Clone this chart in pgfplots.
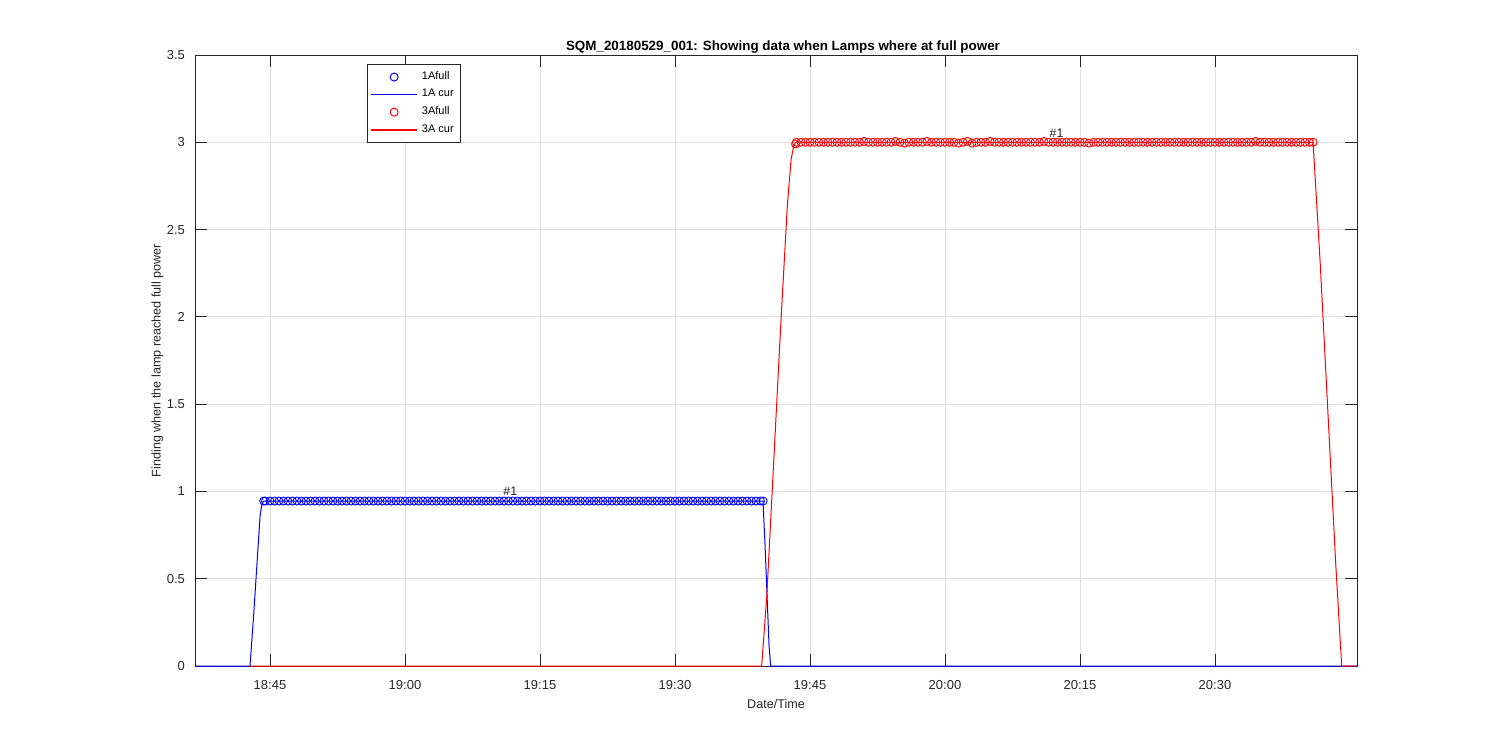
\documentclass[border=0pt]{standalone}
\usepackage{fontspec}
\setmainfont{Liberation Sans}
\usepackage{pgfplots}
\pgfplotsset{compat=1.18}
\definecolor{axgray}{RGB}{38,38,38}
\definecolor{gridgray}{RGB}{223,223,223}
\begin{document}
\begin{tikzpicture}
\path[use as bounding box] (0,0) rectangle (750pt,375pt);
\begin{axis}[
    at={(97.5pt,42pt)}, anchor=south west,
    scale only axis, width=581pt, height=305.5pt,
    xmin=36.67, xmax=165.78, ymin=0, ymax=3.5,
    xtick={45,60,75,90,105,120,135,150},
    xticklabels={18:45,19:00,19:15,19:30,19:45,20:00,20:15,20:30},
    ytick={0,0.5,1,1.5,2,2.5,3,3.5},
    yticklabels={0,0.5,1,1.5,2,2.5,3,3.5},
    grid=major, major grid style={gridgray, line width=0.4pt},
    tick align=inside, major tick length=5.8pt,
    axis line style={axgray, line width=0.4pt},
    every tick/.style={axgray, line width=0.4pt},
    tick label style={font=\fontsize{6.5}{7.5}\selectfont, text=axgray},
    x tick label style={yshift=-3.5pt},
    y tick label style={xshift=-1.5pt},
    /pgf/number format/assume math mode=true,
    label style={font=\fontsize{6.3}{7.5}\selectfont, text=axgray},
    xlabel style={yshift=2pt},
    ylabel style={yshift=-5pt},
    title style={font=\bfseries\fontsize{6.7}{8}\selectfont, text=black, yshift=-8.5pt, xshift=3.5pt},
    title={SQM\_20180529\_001: Showing data when Lamps where at full power},
    xlabel={Date/Time},
    ylabel={Finding when the lamp reached full power},
    legend style={at={(rel axis cs:0.148,0.985)}, anchor=north west, draw=axgray,
        font=\fontsize{5.5}{6.5}\selectfont, row sep=-0.6pt, inner sep=1.5pt},
    legend cell align=left,
]
\addplot[blue, only marks, mark=o, mark size=2pt, line width=0.45pt, forget plot] coordinates {
(44.3,0.945) (44.5,0.945) (45,0.945) (45.5,0.945) (46,0.945) (46.5,0.945) (47,0.945) (47.5,0.945) (48,0.945) (48.5,0.945)
(49,0.945) (49.5,0.945) (50,0.945) (50.5,0.945) (51,0.945) (51.5,0.945) (52,0.945) (52.5,0.945) (53,0.945) (53.5,0.945)
(54,0.945) (54.5,0.945) (55,0.945) (55.5,0.945) (56,0.945) (56.5,0.945) (57,0.945) (57.5,0.945) (58,0.945) (58.5,0.945)
(59,0.945) (59.5,0.945) (60,0.945) (60.5,0.945) (61,0.945) (61.5,0.945) (62,0.945) (62.5,0.945) (63,0.945) (63.5,0.945)
(64,0.945) (64.5,0.945) (65,0.945) (65.5,0.945) (66,0.945) (66.5,0.945) (67,0.945) (67.5,0.945) (68,0.945) (68.5,0.945)
(69,0.945) (69.5,0.945) (70,0.945) (70.5,0.945) (71,0.945) (71.5,0.945) (72,0.945) (72.5,0.945) (73,0.945) (73.5,0.945)
(74,0.945) (74.5,0.945) (75,0.945) (75.5,0.945) (76,0.945) (76.5,0.945) (77,0.945) (77.5,0.945) (78,0.945) (78.5,0.945)
(79,0.945) (79.5,0.945) (80,0.945) (80.5,0.945) (81,0.945) (81.5,0.945) (82,0.945) (82.5,0.945) (83,0.945) (83.5,0.945)
(84,0.945) (84.5,0.945) (85,0.945) (85.5,0.945) (86,0.945) (86.5,0.945) (87,0.945) (87.5,0.945) (88,0.945) (88.5,0.945)
(89,0.945) (89.5,0.945) (90,0.945) (90.5,0.945) (91,0.945) (91.5,0.945) (92,0.945) (92.5,0.945) (93,0.945) (93.5,0.945)
(94,0.945) (94.5,0.945) (95,0.945) (95.5,0.945) (96,0.945) (96.5,0.945) (97,0.945) (97.5,0.945) (98,0.945) (98.5,0.945)
(99,0.945) (99.5,0.945) (99.8,0.945)
};
\addplot[blue, line width=0.5pt, forget plot] coordinates {
(36.67,0) (42.78,0) (43.2,0.3) (43.6,0.62) (43.9,0.86) (44.1,0.925) (44.3,0.945)
(99.78,0.945) (100.0,0.7) (100.25,0.38) (100.45,0.12) (100.63,0) (165.78,0)
};
\addplot[red, only marks, mark=o, mark size=2pt, line width=0.45pt, forget plot] coordinates {
(103.4,2.99) (103.5,3.0) (104,3.0) (104.5,3.0) (105,3.0) (105.5,3.0) (106,3.0) (106.5,3.0) (107,3.0) (107.5,3.0)
(108,3.0) (108.5,3.0) (109,3.0) (109.5,3.0) (110,3.0) (110.5,3.0) (111,3.005) (111.5,3.0) (112,3.0) (112.5,3.0)
(113,3.0) (113.5,3.0) (114,3.0) (114.5,3.005) (115,3.0) (115.5,2.995) (116,3.0) (116.5,3.0) (117,3.0) (117.5,3.0)
(118,3.005) (118.5,3.0) (119,3.0) (119.5,3.0) (120,3.0) (120.5,3.0) (121,3.0) (121.5,2.995) (122,3.0) (122.5,3.005)
(123,2.995) (123.5,3.0) (124,3.0) (124.5,3.0) (125,3.005) (125.5,3.0) (126,3.0) (126.5,3.0) (127,3.0) (127.5,3.0)
(128,3.0) (128.5,3.0) (129,3.0) (129.5,3.0) (130,3.0) (130.5,3.0) (131,3.005) (131.5,3.0) (132,3.0) (132.5,3.0)
(133,3.0) (133.5,3.0) (134,3.0) (134.5,3.0) (135,3.0) (135.5,3.0) (136,2.995) (136.5,3.0) (137,3.0) (137.5,3.0)
(138,3.0) (138.5,3.0) (139,3.0) (139.5,3.0) (140,3.0) (140.5,3.0) (141,3.0) (141.5,3.0) (142,3.0) (142.5,3.0)
(143,3.0) (143.5,3.0) (144,3.0) (144.5,3.0) (145,3.0) (145.5,3.0) (146,3.0) (146.5,3.0) (147,3.0) (147.5,3.0)
(148,3.0) (148.5,3.0) (149,3.0) (149.5,3.0) (150,3.0) (150.5,3.0) (151,3.0) (151.5,3.0) (152,3.0) (152.5,3.0)
(153,3.0) (153.5,3.0) (154,3.0) (154.5,3.005) (155,3.0) (155.5,3.0) (156,3.0) (156.5,3.0) (157,3.0) (157.5,3.0)
(158,3.0) (158.5,3.0) (159,3.0) (159.5,3.0) (160,3.0) (160.5,3.0) (160.9,3.0)
};
\addplot[red, line width=0.5pt, forget plot] coordinates {
(42.78,0) (99.63,0) (100.2,0.4) (101,1.2) (101.8,2.0) (102.5,2.65) (102.9,2.9) (103.2,2.98) (103.4,3.0)
(160.9,3.0) (161.7,2.3) (162.6,1.4) (163.4,0.6) (164.08,0) (165.78,0)
};
\node[font=\fontsize{6.2}{7}\selectfont, text=axgray, anchor=base] at (axis cs:71.7,0.975) {\#1};
\node[font=\fontsize{6.2}{7}\selectfont, text=axgray, anchor=base] at (axis cs:132.4,3.03) {\#1};
\addlegendimage{legend image code/.code={\draw[blue, line width=0.5pt] (11.5pt,0pt) circle (2pt);}}
\addlegendentry{1Afull}
\addlegendimage{legend image code/.code={\draw[blue, line width=0.8pt] (0pt,0pt) -- (23pt,0pt);}}
\addlegendentry{1A cur}
\addlegendimage{legend image code/.code={\draw[red, line width=0.5pt] (11.5pt,0pt) circle (2pt);}}
\addlegendentry{3Afull}
\addlegendimage{legend image code/.code={\draw[red, line width=0.8pt] (0pt,0pt) -- (23pt,0pt);}}
\addlegendentry{3A cur}
\end{axis}
\end{tikzpicture}
\end{document}
